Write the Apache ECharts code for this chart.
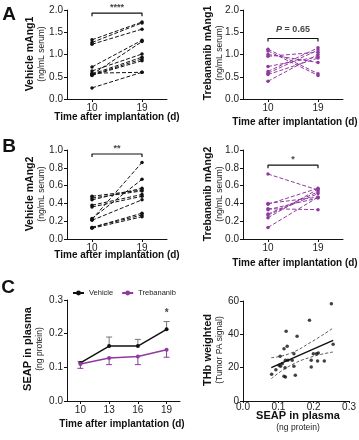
<!DOCTYPE html>
<html><head><meta charset="utf-8">
<script src="https://cdn.jsdelivr.net/npm/echarts@6/dist/echarts.min.js"></script>
<style>html,body{margin:0;padding:0;background:#fff}#c{width:359px;height:440px}</style>
</head><body><div id="c"></div>
<script>
// ---------- data ----------
const pairDays = [10, 19];
const vehAng1D10 = [1.33, 1.27, 1.23, 0.72, 0.63, 0.58, 0.55, 0.56, 0.54, 0.53, 0.25];
const vehAng1D19 = [1.73, 1.71, 1.57, 1.32, 1.01, 0.60, 1.29, 0.94, 0.90, 0.86, 0.60];
const trebAng1D10 = [1.12, 1.08, 1.00, 0.96, 0.73, 0.62, 0.58, 0.55, 0.40];
const trebAng1D19 = [0.57, 0.53, 0.82, 1.05, 0.95, 1.15, 1.10, 0.92, 1.00];
const vehAng2D10 = [0.48, 0.46, 0.44, 0.38, 0.36, 0.22, 0.23, 0.21, 0.13, 0.13, 0.12];
const vehAng2D19 = [0.55, 0.54, 0.57, 0.50, 0.48, 0.86, 0.67, 0.44, 0.29, 0.27, 0.25];
const trebAng2D10 = [0.73, 0.40, 0.39, 0.34, 0.33, 0.28, 0.27, 0.24, 0.13];
const trebAng2D19 = [0.55, 0.47, 0.57, 0.33, 0.46, 0.53, 0.51, 0.56, 0.47];
const sigLabels = ['****', 'P = 0.65', '**', '*'];
const sigHeights = [1.93, 1.36, 0.955, 0.83];

const seapDays = [10, 13, 16, 19];
const seapVehicleMean = [0.113, 0.163, 0.163, 0.213];
const seapVehicleUpper = [0.117, 0.190, 0.183, 0.236];
const seapTrebMean = [0.110, 0.128, 0.132, 0.152];
const seapTrebLower = [0.097, 0.108, 0.108, 0.130];

const scatterSeap = [0.250,0.188,0.122,0.153,0.255,0.125,0.116,0.144,0.199,0.208,0.213,0.105,0.120,0.127,0.139,0.193,0.211,0.230,0.111,0.102,0.106,0.144,0.193,0.119,0.093,0.081,0.148,0.116,0.120];
const scatterThb  = [58.4,48.4,41.8,38.8,34.0,32.8,31.4,28.4,28.4,28.4,28.8,26.8,24.4,24.4,24.4,24.4,24.0,24.0,22.4,21.4,20.8,20.8,20.4,20.0,18.8,16.0,15.4,14.8,14.4];
const fitX = [0.08, 0.255];
const fitY = [20.0, 36.4];
const bandX = [0.08, 0.13, 0.19, 0.255];
const bandUpper = [26.0, 28.3, 35.0, 43.8];
const bandLower = [13.4, 20.8, 26.2, 29.4];

// ---------- styles ----------
const FONT = 'Liberation Sans, Arial, Helvetica, sans-serif';
const PURPLE = '#8e3a9e';
const AX = '#111';
const labelStyle = {fontSize: 10, color: '#222', fontFamily: FONT};

const grids = [
  {left: 67, top: 10, width: 100, height: 89},
  {left: 243, top: 10, width: 100, height: 89},
  {left: 67, top: 150, width: 100, height: 89},
  {left: 243, top: 150, width: 100, height: 89},
  {left: 67, top: 300, width: 113, height: 101},
  {left: 243, top: 301, width: 109, height: 100}
];

function xPair(g) {
  return {type: 'value', gridIndex: g, min: 5.5, max: 23.5,
    axisLine: {show: true, onZero: false, lineStyle: {color: AX, width: 1}},
    axisTick: {show: true, customValues: pairDays, length: 3, lineStyle: {color: AX}},
    axisLabel: Object.assign({customValues: pairDays, margin: 4}, labelStyle),
    splitLine: {show: false}};
}
function yVal(g, max, interval, dec) {
  return {type: 'value', gridIndex: g, min: 0, max: max, interval: interval,
    axisLine: {show: true, onZero: false, lineStyle: {color: AX, width: 1}},
    axisTick: {show: true, length: 3, lineStyle: {color: AX}},
    axisLabel: Object.assign({margin: 4, formatter: v => v.toFixed(dec)}, labelStyle),
    splitLine: {show: false}};
}

const series = [];
function addPairs(g, d10, d19, color) {
  d10.forEach((v, i) => {
    series.push({type: 'line', xAxisIndex: g, yAxisIndex: g, silent: true,
      data: [[pairDays[0], v], [pairDays[1], d19[i]]],
      symbol: 'circle', symbolSize: 3.5, showSymbol: true,
      itemStyle: {color: color}, lineStyle: {color: color, width: 1, type: [4, 2]},
      animation: false});
  });
}
function addBracket(g, h, drop, text, rich) {
  series.push({type: 'line', xAxisIndex: g, yAxisIndex: g, silent: true, symbol: 'none',
    data: [[pairDays[0], h - drop], [pairDays[0], h], [pairDays[1], h], [pairDays[1], h - drop]],
    lineStyle: {color: '#111', width: 1.2}, animation: false});
  series.push({type: 'scatter', xAxisIndex: g, yAxisIndex: g, silent: true, symbolSize: 0,
    data: [[(pairDays[0] + pairDays[1]) / 2, h]],
    label: {show: true, position: 'top', distance: rich ? 4 : 1, formatter: rich || text,
      fontSize: 9, fontWeight: 'bold', color: '#111', fontFamily: FONT,
      rich: {i: {fontStyle: 'italic', fontWeight: 'bold', fontSize: 9, fontFamily: FONT, color: '#111'},
             b: {fontWeight: 'bold', fontSize: 9, fontFamily: FONT, color: '#111'}}},
    animation: false});
}
addPairs(0, vehAng1D10, vehAng1D19, '#111');
addPairs(1, trebAng1D10, trebAng1D19, PURPLE);
addPairs(2, vehAng2D10, vehAng2D19, '#111');
addPairs(3, trebAng2D10, trebAng2D19, PURPLE);
addBracket(0, sigHeights[0], 0.07, sigLabels[0]);
addBracket(1, sigHeights[1], 0.07, sigLabels[1], '{i|P}{b| = 0.65}');
addBracket(2, sigHeights[2], 0.035, sigLabels[2]);
addBracket(3, sigHeights[3], 0.035, sigLabels[3]);

function errBar(color, ends) {
  return {type: 'custom', xAxisIndex: 4, yAxisIndex: 4, silent: true, z: 1,
    data: seapDays.map((d, i) => [d, ends[0][i], ends[1][i]]),
    renderItem: function (params, api) {
      const a = api.coord([api.value(0), api.value(1)]);
      const b = api.coord([api.value(0), api.value(2)]);
      const st = {stroke: color, lineWidth: 1};
      return {type: 'group', children: [
        {type: 'line', shape: {x1: a[0], y1: a[1], x2: b[0], y2: b[1]}, style: st},
        {type: 'line', shape: {x1: b[0] - 3, y1: b[1], x2: b[0] + 3, y2: b[1]}, style: st}]};
    }, animation: false};
}
series.push(errBar('#777', [seapVehicleMean, seapVehicleUpper]));
series.push(errBar(PURPLE, [seapTrebMean, seapTrebLower]));
series.push({name: 'Vehicle', type: 'line', xAxisIndex: 4, yAxisIndex: 4, z: 3,
  data: seapDays.map((d, i) => [d, seapVehicleMean[i]]), symbol: 'circle', symbolSize: 4,
  itemStyle: {color: '#111'}, lineStyle: {color: '#111', width: 1.5}, animation: false});
series.push({name: 'Trebananib', type: 'line', xAxisIndex: 4, yAxisIndex: 4, z: 3,
  data: seapDays.map((d, i) => [d, seapTrebMean[i]]), symbol: 'circle', symbolSize: 4,
  itemStyle: {color: PURPLE}, lineStyle: {color: PURPLE, width: 1.5}, animation: false});
series.push({type: 'scatter', xAxisIndex: 4, yAxisIndex: 4, symbolSize: 0, silent: true,
  data: [[seapDays[3], 0.245]], label: {show: true, position: 'top', distance: 0, formatter: '*', fontSize: 10,
  fontWeight: 'bold', color: '#111', fontFamily: FONT}, animation: false});

series.push({type: 'scatter', xAxisIndex: 5, yAxisIndex: 5, silent: true,
  data: scatterSeap.map((x, i) => [x, scatterThb[i]]), symbolSize: 3.5,
  itemStyle: {color: '#111'}, animation: false});
series.push({type: 'line', xAxisIndex: 5, yAxisIndex: 5, silent: true, symbol: 'none',
  data: fitX.map((x, i) => [x, fitY[i]]), lineStyle: {color: '#111', width: 1.5}, animation: false});
series.push({type: 'line', xAxisIndex: 5, yAxisIndex: 5, silent: true, symbol: 'none', smooth: true,
  data: bandX.map((x, i) => [x, bandUpper[i]]), lineStyle: {color: '#333', width: 0.8, type: [3, 2]}, animation: false});
series.push({type: 'line', xAxisIndex: 5, yAxisIndex: 5, silent: true, symbol: 'none', smooth: true,
  data: bandX.map((x, i) => [x, bandLower[i]]), lineStyle: {color: '#333', width: 0.8, type: [3, 2]}, animation: false});

function txt(x, y, text, font, rot, fill) {
  return {type: 'text', x: x, y: y, rotation: rot ? Math.PI / 2 : 0, silent: true,
    style: {text: text, font: font, fill: fill || '#111', align: 'center', verticalAlign: 'middle'}};
}
const BY = 'bold 10.5px ' + FONT, BC = 'bold 11px ' + FONT, S8 = '8.5px ' + FONT, BX = 'bold 10px ' + FONT, L19 = 'bold 19px ' + FONT;
const graphic = [
  txt(9, 15, 'A', L19), txt(9, 147, 'B', L19), txt(8, 288, 'C', L19),
  txt(30, 54, 'Vehicle mAng1', BY, true), txt(42, 54, '(ng/mL serum)', S8, true, '#222'),
  txt(208, 53, 'Trebananib mAng1', BY, true), txt(220, 53, '(ng/mL serum)', S8, true, '#222'),
  txt(30, 194, 'Vehicle mAng2', BY, true), txt(42, 194, '(ng/mL serum)', S8, true, '#222'),
  txt(208, 194, 'Trebananib mAng2', BY, true), txt(220, 194, '(ng/mL serum)', S8, true, '#222'),
  txt(28, 349, 'SEAP in plasma', BC, true), txt(40, 349, '(ng protein)', S8, true, '#222'),
  txt(208, 350, 'THb weighted', BC, true), txt(220, 350, '(Tumor PA signal)', S8, true, '#222'),
  txt(117, 117, 'Time after implantation (d)', BX),
  txt(295, 122, 'Time after implantation (d)', BX),
  txt(117, 255, 'Time after implantation (d)', BX),
  txt(295, 263, 'Time after implantation (d)', BX),
  txt(122, 424, 'Time after implantation (d)', BX),
  txt(298, 416, 'SEAP in plasma', BC), txt(298, 428, '(ng protein)', S8, false, '#222')
];

const chart = echarts.init(document.getElementById('c'), null, {renderer: 'canvas'});
chart.setOption({
  animation: false,
  grid: grids,
  legend: {data: ['Vehicle', 'Trebananib'], left: 72, top: 289, padding: 0, itemWidth: 11, itemHeight: 6, itemGap: 8,
    textStyle: {fontSize: 7.5, color: '#222', fontFamily: FONT}},
  xAxis: [xPair(0), xPair(1), xPair(2), xPair(3),
    {type: 'value', gridIndex: 4, min: 8.6, max: 20.4,
      axisLine: {show: true, onZero: false, lineStyle: {color: AX}},
      axisTick: {show: true, customValues: seapDays, length: 3, lineStyle: {color: AX}},
      axisLabel: Object.assign({customValues: seapDays, margin: 4}, labelStyle), splitLine: {show: false}},
    {type: 'value', gridIndex: 5, min: 0, max: 0.3, interval: 0.1,
      axisLine: {show: true, onZero: false, lineStyle: {color: AX}},
      axisTick: {show: true, length: 2, lineStyle: {color: AX}},
      axisLabel: Object.assign({margin: 1}, labelStyle, {formatter: v => v.toFixed(1)}), splitLine: {show: false}}],
  yAxis: [yVal(0, 2, 0.5, 1), yVal(1, 2, 0.5, 1), yVal(2, 1, 0.2, 1), yVal(3, 1, 0.2, 1),
    yVal(4, 0.3, 0.1, 1), yVal(5, 60, 20, 0)],
  series: series,
  graphic: graphic
});
</script></body></html>
